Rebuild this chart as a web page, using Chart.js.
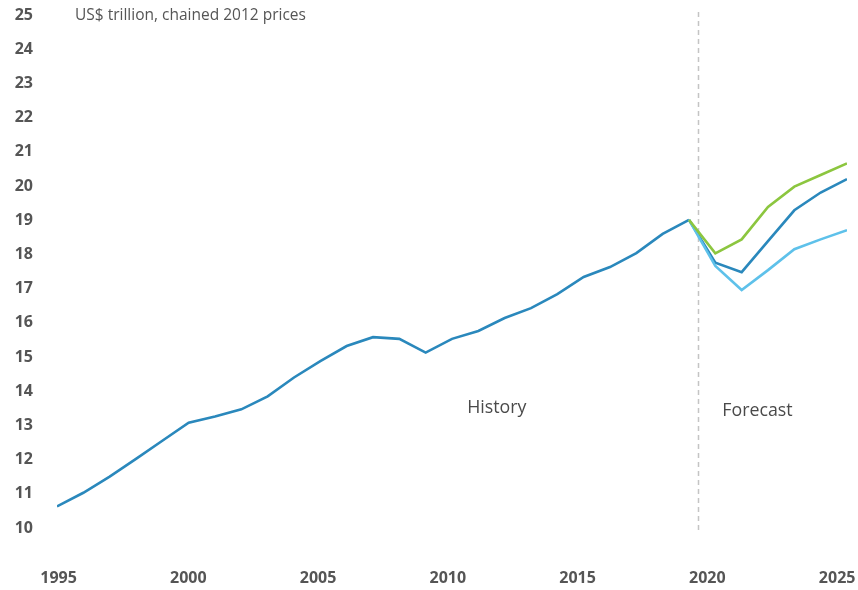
<!DOCTYPE html>
<html>
<head>
<meta charset="utf-8">
<script src="https://cdn.jsdelivr.net/npm/chart.js@4.4.1/dist/chart.umd.min.js"></script>
<style>
  html, body { margin: 0; padding: 0; background: #ffffff; }
  #wrap { width: 858px; height: 590px; position: relative; }
</style>
</head>
<body>
<div id="wrap"><canvas id="c" width="858" height="590"></canvas></div>
<script>
// ---- data ----
const historyYears = [1995,1996,1997,1998,1999,2000,2001,2002,2003,2004,2005,2006,2007,2008,2009,2010,2011,2012,2013,2014,2015,2016,2017,2018,2019];
const historyValues = [10.63,11.03,11.50,12.02,12.55,13.08,13.26,13.47,13.85,14.40,14.88,15.32,15.58,15.53,15.13,15.53,15.76,16.14,16.43,16.84,17.34,17.63,18.04,18.60,19.01];
const forecastYears = [2019,2020,2021,2022,2023,2024,2025];
const baselineValues = [19.01,17.76,17.48,18.39,19.29,19.81,20.20];
const optimisticValues = [19.01,18.03,18.44,19.39,19.98,20.32,20.66];
const pessimisticValues = [19.01,17.66,16.96,17.54,18.15,18.44,18.71];
const yTicks = [10,11,12,13,14,15,16,17,18,19,20,21,22,23,24,25];
const xTicks = [1995,2000,2005,2010,2015,2020,2025];
const unitLabel = 'US$ trillion, chained 2012 prices';
const historyLabel = 'History';
const forecastLabel = 'Forecast';
const dividerYear = 2019.35;

const toXY = (xs, ys) => xs.map((x, i) => ({x: x, y: ys[i]}));

const annotations = {
  id: 'annotations',
  beforeDatasetsDraw(chart) {
    const {ctx, chartArea, scales: {x, y}} = chart;
    const px = Math.round(x.getPixelForValue(dividerYear)) + 0.5;
    ctx.save();
    ctx.strokeStyle = '#c4c4c4';
    ctx.lineWidth = 1.5;
    ctx.setLineDash([5, 4]);
    ctx.beginPath();
    ctx.moveTo(px, 12);
    ctx.lineTo(px, chartArea.bottom + 2);
    ctx.stroke();
    ctx.restore();
  },
  afterDraw(chart) {
    const {ctx, scales: {x, y}} = chart;
    ctx.save();
    ctx.fillStyle = '#555555';
    ctx.font = '15.5px "Open Sans", sans-serif';
    ctx.textBaseline = 'middle';
    ctx.textAlign = 'left';
    ctx.fillText(unitLabel, 75, 16);
    ctx.fillStyle = '#4a4a4a';
    ctx.font = '17.8px "Open Sans", sans-serif';
    ctx.textAlign = 'center';
    ctx.fillText(historyLabel, x.getPixelForValue(2011.7), y.getPixelForValue(13.5));
    ctx.fillText(forecastLabel, x.getPixelForValue(2021.6), y.getPixelForValue(13.42));
    ctx.restore();
  }
};

const lineDs = (label, data, color) => ({
  label: label,
  data: data,
  xAxisID: 'x',
  borderColor: color,
  backgroundColor: color,
  borderWidth: 2.6,
  pointRadius: 0,
  tension: 0,
  fill: false
});

const zeroPad = (scale) => {
  scale.paddingLeft = 0; scale.paddingRight = 0;
  scale.paddingTop = 0; scale.paddingBottom = 0;
};

new Chart(document.getElementById('c'), {
  type: 'line',
  data: {
    datasets: [
      lineDs('Optimistic', toXY(forecastYears, optimisticValues), '#8cc63f'),
      lineDs('Pessimistic', toXY(forecastYears, pessimisticValues), '#5ec1ea'),
      lineDs('Baseline', toXY(forecastYears, baselineValues), '#2a88bc'),
      lineDs('History', toXY(historyYears, historyValues), '#2a88bc')
    ]
  },
  options: {
    responsive: false,
    animation: false,
    devicePixelRatio: 1,
    layout: { padding: { top: 15, right: 11, left: 0, bottom: 0 } },
    plugins: {
      legend: { display: false },
      tooltip: { enabled: false },
      title: { display: false }
    },
    scales: {
      x: {
        type: 'linear',
        display: false,
        min: 1995,
        max: 2025
      },
      xl: {
        type: 'linear',
        axis: 'x',
        position: 'bottom',
        min: 1994.94,
        max: 2025.38,
        grid: { display: false, drawTicks: false },
        border: { display: false },
        afterBuildTicks(scale) { scale.ticks = xTicks.map(v => ({value: v})); },
        afterFit(scale) { scale.height = 62; zeroPad(scale); },
        ticks: {
          padding: 41,
          color: '#555555',
          maxRotation: 0,
          autoSkip: false,
          font: { family: '"Open Sans", sans-serif', size: 16, weight: 'bold' },
          callback: v => String(v)
        }
      },
      y: {
        min: 10,
        max: 25,
        grid: { display: false, drawTicks: false },
        border: { display: false },
        afterBuildTicks(scale) { scale.ticks = yTicks.map(v => ({value: v})); },
        afterFit(scale) { scale.width = 57; zeroPad(scale); },
        ticks: {
          padding: 24,
          color: '#555555',
          autoSkip: false,
          font: { family: '"Open Sans", sans-serif', size: 16, weight: 'bold' },
          callback: v => String(v)
        }
      }
    }
  },
  plugins: [annotations]
});
</script>
</body>
</html>
